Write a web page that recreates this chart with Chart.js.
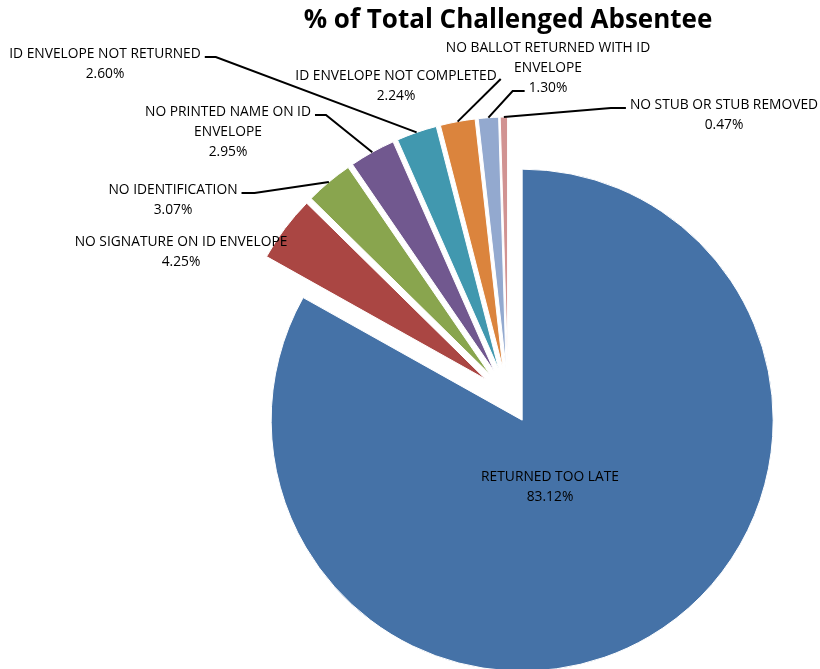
<!DOCTYPE html>
<html>
<head>
<meta charset="utf-8">
<script src="https://cdn.jsdelivr.net/npm/chart.js"></script>
<style>
  body { margin: 0; background: #fff; }
  #wrap { width: 820px; height: 669px; }
</style>
</head>
<body>
<div id="wrap"><canvas id="myChart"></canvas></div>
<script>
// data
const categories = [
  "RETURNED TOO LATE",
  "NO SIGNATURE ON ID ENVELOPE",
  "NO IDENTIFICATION",
  "NO PRINTED NAME ON ID ENVELOPE",
  "ID ENVELOPE NOT RETURNED",
  "ID ENVELOPE NOT COMPLETED",
  "NO BALLOT RETURNED WITH ID ENVELOPE",
  "NO STUB OR STUB REMOVED"
];
const percents = [83.12, 4.25, 3.07, 2.95, 2.60, 2.24, 1.30, 0.47];
const chartTitle = "% of Total Challenged Absentee";

// styles
const sliceColors = ["#4572A7", "#AA4643", "#89A54E", "#71588F", "#4198AF", "#DB843D", "#93A9CF", "#D19392"];
const explode = 28; // every slice pulled out a bit, like excel
const labelFont = "13.8px 'Open Sans'";
// x = centre of text block, y = middle of first line
const labelLayout = [
  { x: 550, y: 477, maxW: 220, leader: null },
  { x: 181, y: 242, maxW: 260, leader: null },
  { x: 173, y: 190, maxW: 220, leader: { line: 0, side: "right", elbow: 13 } },
  { x: 228, y: 112, maxW: 220, leader: { line: 0, side: "right", elbow: 11 } },
  { x: 105, y: 54, maxW: 250, leader: { line: 0, side: "right", elbow: 11 } },
  { x: 396, y: 76, maxW: 250, leader: { line: 0, side: "right", elbow: 0 } },
  { x: 548, y: 48, maxW: 235, leader: { line: 2, side: "left", elbow: 12 } },
  { x: 724, y: 105, maxW: 250, leader: { line: 0, side: "left", elbow: 15 } }
];

const wrapText = (ctx, text, maxW) => {
  const words = text.split(" ");
  const lines = [];
  let cur = "";
  words.forEach((w) => {
    const test = cur ? cur + " " + w : w;
    if (cur && ctx.measureText(test).width > maxW) {
      lines.push(cur);
      cur = w;
    } else {
      cur = test;
    }
  });
  lines.push(cur);
  return lines;
};

// push every arc outward along its bisector
const explodePlugin = {
  id: "explode",
  afterDatasetsUpdate(chart) {
    chart.getDatasetMeta(0).data.forEach((arc) => {
      const mid = (arc.startAngle + arc.endAngle) / 2;
      arc.x += Math.cos(mid) * explode;
      arc.y += Math.sin(mid) * explode;
    });
  },
};

const labelPlugin = {
  id: "sliceLabels",
  afterDatasetsDraw(chart) {
    const ctx = chart.ctx;
    const arcs = chart.getDatasetMeta(0).data;
    ctx.save();
    ctx.font = labelFont;
    ctx.fillStyle = "#000";
    ctx.textAlign = "center";
    ctx.textBaseline = "middle";
    arcs.forEach((arc, i) => {
      const lay = labelLayout[i];
      const lines = wrapText(ctx, categories[i], lay.maxW);
      lines.push(percents[i].toFixed(2) + "%");
      lines.forEach((ln, k) => ctx.fillText(ln, lay.x, lay.y + k * 20));

      if (lay.leader) {
        const ld = lay.leader;
        const w = ctx.measureText(lines[ld.line]).width;
        const ly = lay.y + ld.line * 20 + 3;
        const dir = ld.side === "right" ? 1 : -1;
        const sx = lay.x + dir * (w / 2 + 4);
        const ex = sx + dir * ld.elbow;
        const mid = (arc.startAngle + arc.endAngle) / 2;
        const px = arc.x + Math.cos(mid) * arc.outerRadius;
        const py = arc.y + Math.sin(mid) * arc.outerRadius;
        ctx.beginPath();
        ctx.moveTo(sx, ly);
        ctx.lineTo(ex, ly);
        ctx.lineTo(px, py);
        ctx.strokeStyle = "#000";
        ctx.lineWidth = 2;
        ctx.stroke();
      }
    });
    ctx.restore();
  },
};

new Chart(document.getElementById("myChart"), {
  type: "pie",
  data: {
    labels: categories,
    datasets: [
      {
        data: percents,
        backgroundColor: sliceColors,
        borderColor: "#fff",
        borderWidth: 1,
      },
    ],
  },
  options: {
    responsive: true,
    maintainAspectRatio: false,
    animation: false,
    radius: 251,
    layout: { padding: { left: 196, right: 0, top: 0, bottom: 0 } },
    plugins: {
      legend: { display: false },
      tooltip: { enabled: false },
      title: {
        display: true,
        text: chartTitle,
        color: "#000",
        font: { family: "'Open Sans'", size: 26, weight: "bold", lineHeight: 1.2 },
        padding: { top: 5.4, bottom: 86.4 },
      },
    },
  },
  plugins: [explodePlugin, labelPlugin],
});
</script>
</body>
</html>
